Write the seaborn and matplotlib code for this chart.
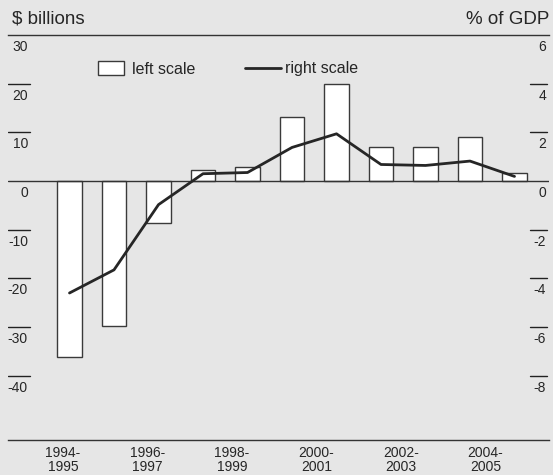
import matplotlib
matplotlib.use("Agg")
import matplotlib.pyplot as plt
import matplotlib.transforms as mtransforms
from matplotlib.patches import Patch
from matplotlib.lines import Line2D
import pandas as pd
import seaborn as sns

# Fiscal years, budget balance ($ billions, left) and as % of GDP (right)
years = ["1994-1995", "1995-1996", "1996-1997", "1997-1998", "1998-1999", "1999-2000",
         "2000-2001", "2001-2002", "2002-2003", "2003-2004", "2004-2005"]
balance_bn = [-36.2, -29.7, -8.6, 2.2, 2.9, 13.1, 20.0, 7.0, 6.9, 9.0, 1.7]
balance_pct = [-4.6, -3.65, -0.97, 0.30, 0.35, 1.38, 1.94, 0.68, 0.64, 0.82, 0.19]
left_ticks = [30, 20, 10, 0, -10, -20, -30, -40]
right_ticks = [6, 4, 2, 0, -2, -4, -6, -8]
year_labels = ["1994-\n1995", "1996-\n1997", "1998-\n1999", "2000-\n2001", "2002-\n2003", "2004-\n2005"]

df = pd.DataFrame({"year": years, "bn": balance_bn, "pct": balance_pct})
df["pos"] = range(len(df))

sns.set_style("white")
plt.rcParams["font.family"] = ["Liberation Sans", "DejaVu Sans"]
bg = "#e6e6e6"
ink = "#262626"

fig = plt.figure(figsize=(5.53, 4.75), dpi=100, facecolor=bg)
ax = fig.add_axes([8 / 553, 35 / 475, 541 / 553, 405 / 475])
ax.set_facecolor(bg)

sns.barplot(data=df, x="pos", y="bn", color="white", saturation=1, edgecolor="#3a3a3a",
            linewidth=1.0, width=0.56, ax=ax, native_scale=True)
ax.set_ylim(-53.2, 30)
ax.set_xlim(-1.382, 10.775)

ax2 = ax.twinx()
sns.lineplot(data=df, x="pos", y="pct", color=ink, linewidth=2.0, ax=ax2)
ax2.set_ylim(-53.2 / 5, 6)
ax2.set_xlim(-1.382, 10.775)

for a in (ax, ax2):
    a.set_xlabel("")
    a.set_ylabel("")
    a.set_yticks([])
    a.set_xticks([])
    for s in a.spines.values():
        s.set_visible(False)
for s in ("top", "bottom"):
    ax.spines[s].set_visible(True)
    ax.spines[s].set_color("#333333")
    ax.spines[s].set_linewidth(1.0)
ax.axhline(0, color="#333333", lw=1.0, zorder=3)

# custom tick marks with labels underneath
tl = mtransforms.blended_transform_factory(ax.transAxes, ax.transData)
tl_off = mtransforms.offset_copy(tl, fig=fig, y=-5, units="dots")
for v in left_ticks:
    if v not in (30, 0):
        ax.axhline(v, xmin=0, xmax=22 / 541, color="#222222", lw=1.0)
    ax.text(20 / 541, v, str(v), transform=tl_off, ha="right", va="top",
            fontsize=10, color=ink)

tr = mtransforms.blended_transform_factory(ax2.transAxes, ax2.transData)
tr_off = mtransforms.offset_copy(tr, fig=fig, y=-5, units="dots")
for v in right_ticks:
    if v not in (6, 0):
        ax2.axhline(v, xmin=522 / 541, xmax=539 / 541, color="#222222", lw=1.0)
    ax2.text(538 / 541, v, str(v), transform=tr_off, ha="right", va="top",
             fontsize=10, color=ink)

# category labels (every other year)
xt = mtransforms.blended_transform_factory(ax.transData, ax.transAxes)
xt_off = mtransforms.offset_copy(xt, fig=fig, y=-6, units="dots")
for i, lab in enumerate(year_labels):
    ax.text(2 * i * 0.95 - 0.15, 0, lab, transform=xt_off, ha="center", va="top",
            fontsize=10, color=ink, linespacing=1.0)

fig.text(12 / 553, 1 - 19 / 475, r"\$ billions", ha="left", va="center", fontsize=13.5, color=ink)
fig.text(549 / 553, 1 - 19 / 475, "% of GDP", ha="right", va="center", fontsize=13.5, color=ink)

legend_y = 1 - 69 / 475
fig.legend([Patch(facecolor="white", edgecolor="#3a3a3a", linewidth=1.0)], ["left scale"],
           loc="center left", bbox_to_anchor=(98 / 553, legend_y), frameon=False,
           fontsize=11.5, handlelength=1.63, handleheight=1.0, handletextpad=0.5,
           borderpad=0, borderaxespad=0, labelcolor=ink)
fig.legend([Line2D([], [], color=ink, linewidth=2.0)], ["right scale"],
           loc="center left", bbox_to_anchor=(245 / 553, legend_y), frameon=False,
           fontsize=11.5, handlelength=2.25, handletextpad=0.25,
           borderpad=0, borderaxespad=0, labelcolor=ink)

fig.savefig("out.png", dpi=100, facecolor=bg)
